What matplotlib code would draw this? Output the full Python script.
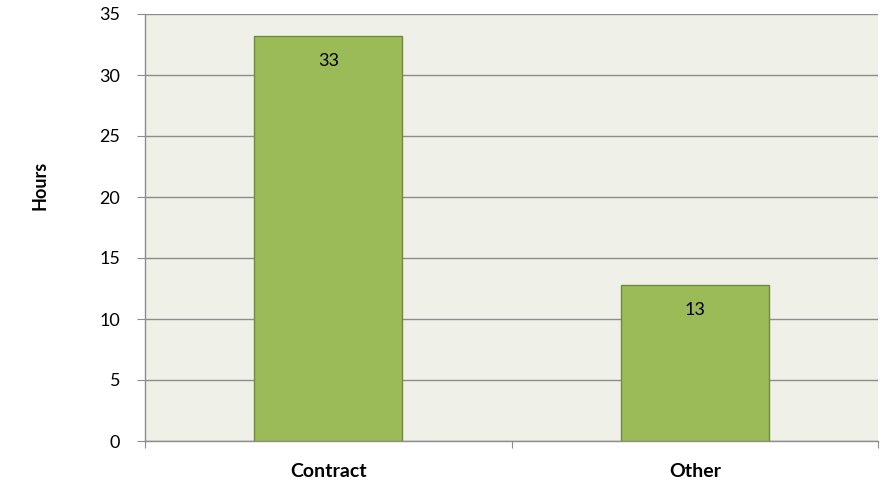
import matplotlib
matplotlib.use("Agg")
import matplotlib.pyplot as plt

categories = ["Contract", "Other"]
hours = [33.2, 12.8]
labels = ["33", "13"]
yticks = [0, 5, 10, 15, 20, 25, 30, 35]

plt.rcParams['font.family'] = ['Lato', 'DejaVu Sans']
FS = 13

fig = plt.figure(figsize=(8.9, 4.84), dpi=100)
ax = fig.add_axes([145/890, 1-441/484, (878-145)/890, (441-14)/484])
ax.set_facecolor("#EFF1E8")

x = list(range(len(categories)))
bars = ax.bar(x, hours, width=0.404, color="#9BBB59", edgecolor="#71893F", linewidth=1.0, zorder=3)
for b, lab in zip(bars, labels):
    ax.annotate(lab, (b.get_x() + b.get_width()/2, b.get_height()), xytext=(0, -18),
                textcoords="offset points", ha="center", va="center", fontsize=FS, color="black", zorder=4)

ax.set_xlim(-0.5, 1.5)
ax.set_ylim(0, 35)
ax.set_yticks(yticks)
ax.set_yticklabels([str(t) for t in yticks], fontsize=FS)
ax.yaxis.grid(True, color="#8C8C8C", linewidth=1.0, zorder=1)
ax.set_axisbelow(True)

ax.set_xticks([-0.5, 0.5, 1.5])
ax.set_xticklabels([])
ax.set_xticks(x, minor=True)
ax.set_xticklabels(categories, minor=True, fontsize=14, fontweight="bold")
ax.tick_params(axis="x", which="minor", length=0, pad=16)
ax.tick_params(axis="x", which="major", length=5, color="#8C8C8C", direction="out")
ax.tick_params(axis="y", length=6, color="#8C8C8C", direction="out", pad=12)

for s in ["top", "right"]:
    ax.spines[s].set_visible(False)
for s in ["left", "bottom"]:
    ax.spines[s].set_color("#8C8C8C")
    ax.spines[s].set_linewidth(1.0)

fig.text(40/890, 1-185/484, "Hours", rotation=90, ha="center", va="center", fontsize=FS, fontweight="bold")

fig.savefig("out.png", dpi=100, facecolor="white")
